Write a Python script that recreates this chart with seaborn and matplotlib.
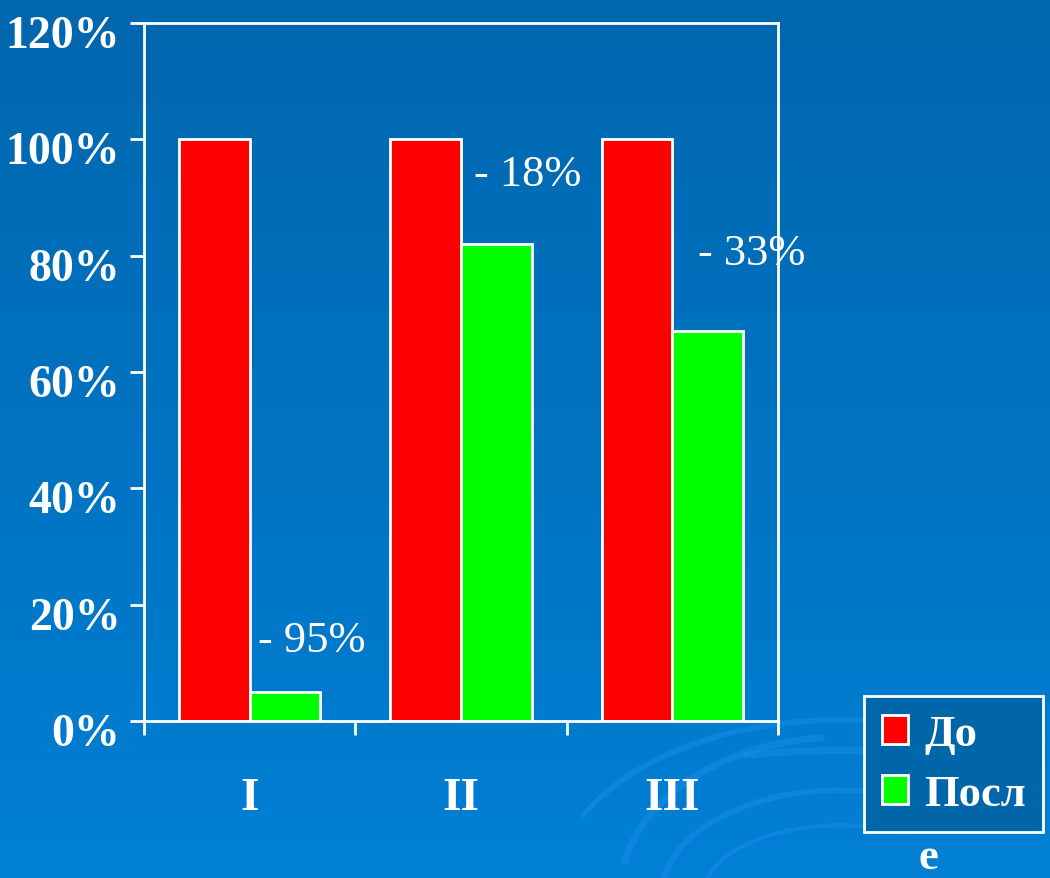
import numpy as np
import pandas as pd
import seaborn as sns
import matplotlib.pyplot as plt
from matplotlib.patches import Arc
import matplotlib.transforms as mtransforms

# Data
groups = ['I', 'II', 'III']
before = [100, 100, 100]
after = [5, 82, 67]
periods = ['До', 'После']
legend_labels = ['До', 'Посл']
changes = ['- 95%', '- 18%', '- 33%']
change_pos = [(0.04, 14.0), (1.06, 94.0), (2.12, 80.4)]
yticks = [0, 20, 40, 60, 80, 100, 120]

df = pd.DataFrame({
    'group': groups * 2,
    'period': [periods[0]] * 3 + [periods[1]] * 3,
    'value': before + after,
})

sns.set_style('white')
plt.rcParams['font.family'] = ['Liberation Serif', 'DejaVu Serif']

fig = plt.figure(figsize=(10.5, 8.79), dpi=100)

# gradient background with faint swirls
bg = fig.add_axes([0, 0, 1, 1], zorder=0)
top = np.array([0, 102, 174]) / 255
bottom = np.array([0, 128, 213]) / 255
t = np.linspace(0, 1, 256)[:, None]
grad = top * (1 - t) + bottom * t
bg.imshow(np.repeat(grad[:, None, :], 2, axis=1), aspect='auto', extent=[0, 1, 0, 1])
for w, h, lw, t1, t2 in [(0.42, 0.36, 5, 95, 170), (0.55, 0.40, 4, 70, 160),
                         (0.70, 0.33, 5, 60, 120), (0.34, 0.24, 4, 60, 175),
                         (0.26, 0.16, 3, 50, 175)]:
    bg.add_patch(Arc((0.80, -0.02), w, h, theta1=t1, theta2=t2,
                     color=(0.12, 0.56, 0.93), lw=lw, alpha=0.45))
bg.set_xlim(0, 1)
bg.set_ylim(0, 1)
bg.axis('off')

ax = fig.add_axes([0.1371, 0.1786, 0.604, 0.7941], zorder=1)
ax.set_facecolor('none')
sns.barplot(data=df, x='group', y='value', hue='period', hue_order=periods,
            palette=['#FF0000', '#00FF00'], width=0.67, gap=0, saturation=1,
            edgecolor='white', linewidth=2, ax=ax, legend=False)

ax.set_xlim(-0.5, 2.5)
ax.set_ylim(0, 120)
ax.set_xlabel('')
ax.set_ylabel('')

for s in ax.spines.values():
    s.set_color('white')
    s.set_linewidth(2)
    s.set_visible(True)

ax.set_yticks(yticks)
ax.set_yticklabels([f'{v}%' for v in yticks], fontsize=33, fontweight='bold', color='white')
ax.tick_params(axis='y', left=True, length=10, width=2, color='white', pad=7)
offset = mtransforms.ScaledTranslation(0, -8 / 100, fig.dpi_scale_trans)
for lab in ax.get_yticklabels():
    lab.set_transform(lab.get_transform() + offset)

ax.set_xticks(range(len(groups)))
ax.set_xticklabels(groups, fontsize=34, fontweight='bold', color='white')
ax.tick_params(axis='x', bottom=True, length=0, pad=40)
ax.set_xticks([-0.5, 0.5, 1.5, 2.5], minor=True)
ax.tick_params(axis='x', which='minor', bottom=True, length=10, width=2, color='white')

for txt, (x, y) in zip(changes, change_pos):
    ax.text(x, y, txt, fontsize=32, color='white', ha='left', va='center', zorder=0.5)

handles = [plt.Rectangle((0, 0), 1, 1, facecolor=c, edgecolor='white', linewidth=2)
           for c in ['#FF0000', '#00FF00']]
leg = fig.legend(handles, legend_labels, loc='lower left',
                 bbox_to_anchor=(864 / 1050, 1 - 833 / 879),
                 prop={'size': 32, 'weight': 'bold'}, labelcolor='white',
                 frameon=True, fancybox=False, facecolor='#0066AA', edgecolor='white',
                 framealpha=1, handlelength=0.6, handleheight=0.6,
                 handletextpad=0.35, labelspacing=0.45, borderpad=0.4,
                 borderaxespad=0)
leg.get_frame().set_linewidth(2)
leg.set_zorder(3)
fig.text(918 / 1050, 1 / 879, 'е', fontsize=32, fontweight='bold',
         color='white', ha='left', va='bottom')

fig.savefig('out.png', dpi=100)
